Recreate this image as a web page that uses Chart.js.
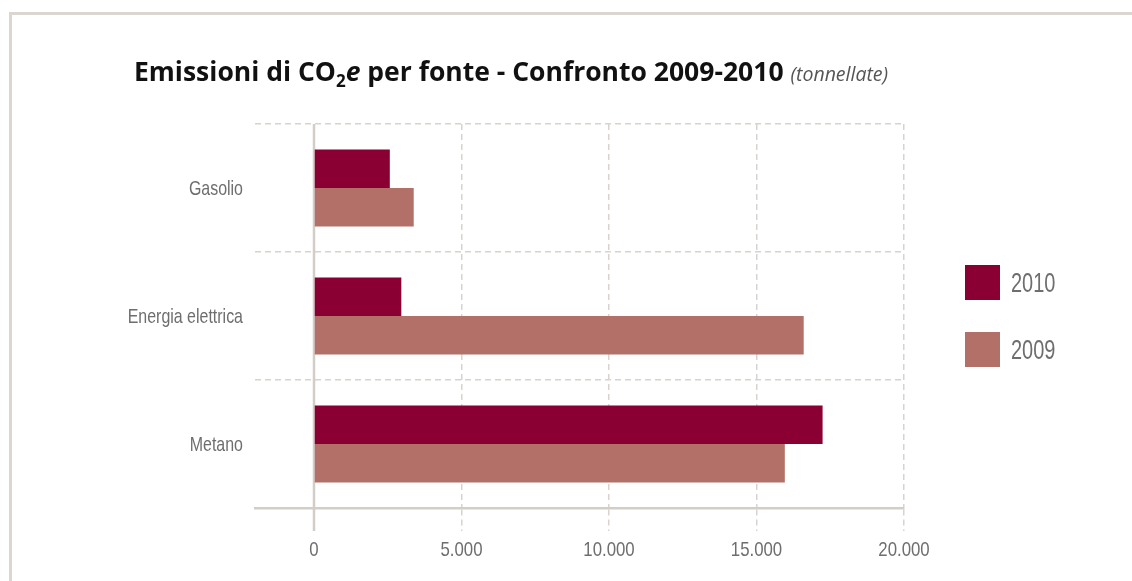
<!DOCTYPE html>
<html>
<head>
<meta charset="utf-8">
<script src="https://cdn.jsdelivr.net/npm/chart.js@4.4.1/dist/chart.umd.min.js"></script>
<style>
  body { margin: 0; background: #fff; }
  #wrap { position: relative; width: 1132px; height: 581px; }
  #title {
    position: absolute; left: 134px; top: 53px;
    font-family: 'Open Sans', sans-serif; font-weight: bold; font-size: 26.5px;
    line-height: 36px; color: #111; white-space: nowrap;
  }
  #title sub { font-size: 17px; line-height: 0; vertical-align: -6px; }
  #title .unit { font-weight: normal; font-style: italic; font-size: 19.5px; color: #555; }
</style>
</head>
<body>
<div id="wrap">
  <div id="title">Emissioni di CO<sub>2</sub><i>e</i> per fonte - Confronto 2009-2010 <span class="unit">(tonnellate)</span></div>
  <canvas id="chart" width="1132" height="581"></canvas>
</div>
<script>
var categories = ["Gasolio", "Energia elettrica", "Metano"];
var years = ["2010", "2009"];
var values2010 = [2570, 2960, 17240];
var values2009 = [3380, 16600, 15960];
var xTickValues = [0, 5000, 10000, 15000, 20000];

var colors = ["#8a0033", "#b37068"];
var gridColor = "#d8d3ce";
var axisColor = "#d3cdc8";
var labelColor = "#6e6e6e";
var labelFont = "'Liberation Sans', Arial, sans-serif";

function formatThousands(v) {
  return String(v).replace(/\B(?=(\d{3})+(?!\d))/g, ".");
}

// testo stretto: Liberation Sans compressa in orizzontale
function drawNarrow(ctx, text, x, y, squeeze) {
  ctx.save();
  ctx.translate(x, y);
  ctx.scale(squeeze, 1);
  ctx.fillText(text, 0, 0);
  ctx.restore();
}

// cornice grigia in alto e a sinistra
var framePlugin = {
  id: "frame",
  beforeDraw: function (chart) {
    var ctx = chart.ctx;
    ctx.save();
    ctx.fillStyle = "#dcd6d0";
    ctx.fillRect(9, 12, chart.width - 9, 3);
    ctx.fillRect(9, 12, 3, chart.height - 12);
    ctx.restore();
  }
};

// linea dello zero continua, sotto le barre
var zeroLinePlugin = {
  id: "zeroLine",
  beforeDatasetsDraw: function (chart) {
    var x = chart.scales.x;
    var px = Math.round(x.getPixelForValue(0));
    var ctx = chart.ctx;
    ctx.save();
    ctx.strokeStyle = axisColor;
    ctx.lineWidth = 2.5;
    ctx.beginPath();
    ctx.moveTo(px, chart.chartArea.top);
    ctx.lineTo(px, chart.chartArea.bottom + x.options.grid.tickLength);
    ctx.stroke();
    ctx.restore();
  }
};

// etichette degli assi in carattere stretto
var narrowLabelsPlugin = {
  id: "narrowLabels",
  afterDraw: function (chart) {
    var ctx = chart.ctx;
    var xs = chart.scales.x;
    var ys = chart.scales.y;
    ctx.save();
    ctx.fillStyle = labelColor;
    ctx.font = "21px " + labelFont;
    ctx.textBaseline = "middle";
    ctx.textAlign = "center";
    xs.ticks.forEach(function (t, i) {
      drawNarrow(ctx, t.label, xs.getPixelForTick(i), xs.top + 42, 0.8);
    });
    ctx.textAlign = "right";
    ys.ticks.forEach(function (t, i) {
      drawNarrow(ctx, t.label, chart.chartArea.left - 12, ys.getPixelForTick(i) + 1, 0.76);
    });
    ctx.restore();
  }
};

// legenda a destra con quadrati grandi
var sideLegendPlugin = {
  id: "sideLegend",
  afterDraw: function (chart) {
    var ctx = chart.ctx;
    var left = chart.chartArea.right + 61;
    var top = 265;
    ctx.save();
    ctx.font = "27px " + labelFont;
    ctx.textBaseline = "middle";
    ctx.textAlign = "left";
    chart.data.datasets.forEach(function (ds, i) {
      var y = top + i * 67;
      ctx.fillStyle = ds.backgroundColor;
      ctx.fillRect(left, y, 35, 35);
      ctx.fillStyle = labelColor;
      drawNarrow(ctx, ds.label, left + 46, y + 20, 0.74);
    });
    ctx.restore();
  }
};

function xLineColor(ctx) {
  return ctx.tick && ctx.tick.value === 0 ? "rgba(0,0,0,0)" : gridColor;
}

new Chart(document.getElementById("chart").getContext("2d"), {
  type: "bar",
  data: {
    labels: categories,
    datasets: [
      { label: years[0], data: values2010, backgroundColor: colors[0], borderWidth: 0,
        categoryPercentage: 0.6, barPercentage: 1.0 },
      { label: years[1], data: values2009, backgroundColor: colors[1], borderWidth: 0,
        categoryPercentage: 0.6, barPercentage: 1.0 }
    ]
  },
  options: {
    responsive: false,
    animation: false,
    indexAxis: "y",
    layout: { padding: { left: 0, right: 228, top: 124, bottom: 0 } },
    plugins: {
      legend: { display: false },
      tooltip: { enabled: false },
      title: { display: false }
    },
    scales: {
      x: {
        min: -2000,
        max: 20000,
        afterBuildTicks: function (axis) {
          axis.ticks = xTickValues.map(function (v) { return { value: v }; });
        },
        afterFit: function (axis) { axis.height = 73; },
        grid: {
          color: xLineColor,
          tickColor: xLineColor,
          lineWidth: 1.5,
          tickWidth: 1.5,
          tickLength: 23,
          tickBorderDash: [6, 4]
        },
        border: { display: true, color: axisColor, width: 2.5, dash: [6, 4] },
        ticks: {
          display: false,
          callback: function (v) { return formatThousands(v); }
        }
      },
      y: {
        afterFit: function (axis) { axis.width = 255; },
        grid: { color: gridColor, lineWidth: 1.5, drawTicks: false, offset: true },
        border: { display: false, dash: [6, 4] },
        ticks: { display: false }
      }
    }
  },
  plugins: [framePlugin, zeroLinePlugin, narrowLabelsPlugin, sideLegendPlugin]
});
</script>
</body>
</html>
